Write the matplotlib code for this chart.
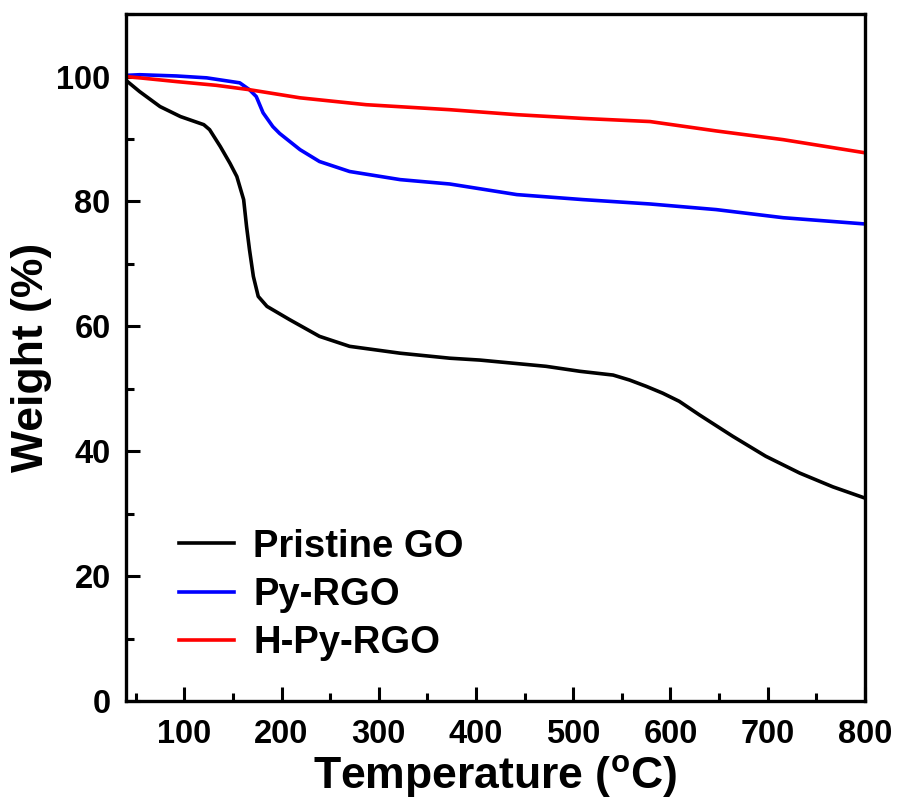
import numpy as np
import matplotlib
matplotlib.use('Agg')
import matplotlib.pyplot as plt
from matplotlib.ticker import MultipleLocator

plt.rcParams['font.family'] = ['Liberation Sans', 'DejaVu Sans']
plt.rcParams['font.weight'] = 'bold'
plt.rcParams['mathtext.fontset'] = 'custom'
plt.rcParams['mathtext.rm'] = 'Liberation Sans:bold'
plt.rcParams['mathtext.bf'] = 'Liberation Sans:bold'

# Pristine GO
t_go = [40, 54, 75, 96, 120, 126, 137, 147, 154, 161, 164, 167, 171, 176, 185,
        208, 239, 270, 322, 373, 404, 438, 472, 507, 541, 558, 575, 592, 609,
        630, 664, 698, 733, 767, 800]
w_go = [99.4, 97.6, 95.2, 93.6, 92.3, 91.5, 88.8, 86.1, 84.0, 80.3, 76.0, 72.3,
        68.0, 64.8, 63.2, 61.1, 58.4, 56.8, 55.7, 54.9, 54.6, 54.1, 53.6, 52.8,
        52.2, 51.4, 50.4, 49.3, 48.0, 45.8, 42.4, 39.2, 36.5, 34.3, 32.5]
# Py-RGO
t_py = [40, 54, 92, 123, 157, 167, 174, 181, 191, 198, 219, 239, 270, 322,
        373, 442, 510, 579, 647, 716, 800]
w_py = [100.2, 100.3, 100.1, 99.8, 99.0, 97.9, 96.8, 94.2, 92.0, 90.9, 88.3,
        86.4, 84.8, 83.5, 82.8, 81.1, 80.3, 79.6, 78.7, 77.4, 76.4]
# H-Py-RGO
t_hpy = [40, 54, 92, 133, 167, 219, 287, 373, 442, 510, 579, 647, 716, 800]
w_hpy = [100.0, 99.8, 99.2, 98.6, 97.9, 96.6, 95.5, 94.7, 93.9, 93.3, 92.8,
         91.3, 89.9, 87.8]

labels = ['Pristine GO', 'Py-RGO', 'H-Py-RGO']
colors = ['black', '#0000ff', '#ff0000']

fig = plt.figure(figsize=(9, 8.09), dpi=100)
ax = fig.add_axes([0.14, 0.1335, 0.821, 0.849])

for t, w, lab, c in zip([t_go, t_py, t_hpy], [w_go, w_py, w_hpy], labels, colors):
    ax.plot(t, w, color=c, lw=2.6, label=lab)

ax.set_xlim(40, 800)
ax.set_ylim(0, 110)
ax.set_xticks(np.arange(100, 801, 100))
ax.set_yticks(np.arange(0, 101, 20))
ax.xaxis.set_minor_locator(MultipleLocator(50))
ax.yaxis.set_minor_locator(MultipleLocator(10))
ax.tick_params(which='both', direction='in', width=2.2, labelsize=23.5)
ax.tick_params(axis='x', pad=13)
ax.tick_params(axis='y', pad=11)
ax.tick_params(which='major', length=10)
ax.tick_params(which='minor', length=6)
for s in ax.spines.values():
    s.set_linewidth(2.4)

ax.set_xlabel(r'Temperature ($^{\mathrm{o}}$C)', fontsize=32, fontweight='bold', labelpad=2)
ax.set_ylabel('Weight (%)', fontsize=32, fontweight='bold', labelpad=3)

ax.legend(loc='lower left', bbox_to_anchor=(0.025, 0.008), frameon=False,
          fontsize=27.5, handlelength=1.45, handletextpad=0.5, labelspacing=0.32)

fig.savefig('out.png', dpi=100)
